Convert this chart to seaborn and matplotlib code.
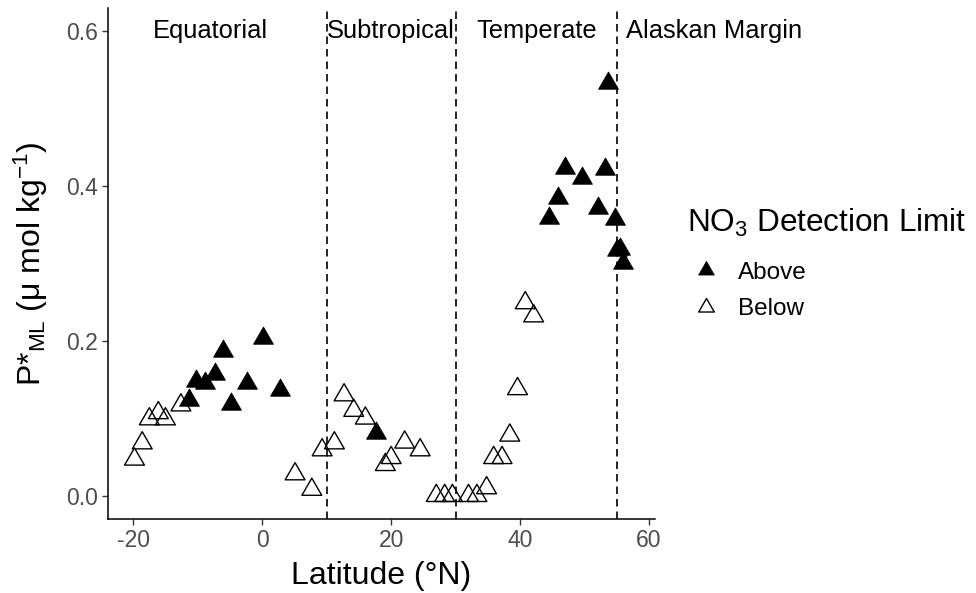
import matplotlib
matplotlib.use("Agg")
import matplotlib.pyplot as plt
from matplotlib.path import Path
from matplotlib.lines import Line2D
import seaborn as sns
import pandas as pd

# ---------------- data ----------------
above_lat = [-11.4, -10.2, -8.8, -7.3, -6.1, -4.9, -2.4, 0.1, 2.7, 17.7,
             44.5, 45.8, 47.0, 49.6, 52.0, 53.1, 53.7, 54.7, 55.1, 55.5, 56.0]
above_p = [0.124, 0.148, 0.146, 0.157, 0.187, 0.118, 0.146, 0.204, 0.137, 0.081,
           0.359, 0.385, 0.423, 0.410, 0.372, 0.422, 0.533, 0.358, 0.317, 0.319, 0.301]

below_lat = [-19.8, -18.6, -17.5, -16.1, -15.0, -12.6, 5.1, 7.7, 9.3, 11.2,
             12.7, 14.2, 16.0, 19.1, 20.0, 22.1, 24.5,
             27.0, 28.3, 29.5, 32.0, 33.3, 34.8, 35.9, 37.2, 38.4, 39.6, 40.8, 42.1]
below_p = [0.047, 0.068, 0.099, 0.107, 0.099, 0.117, 0.028, 0.008, 0.059, 0.068,
           0.130, 0.110, 0.100, 0.040, 0.049, 0.069, 0.059,
           0.0, 0.0, 0.0, 0.0, 0.0, 0.010, 0.049, 0.049, 0.078, 0.138, 0.249, 0.232]

boundaries = [10, 30, 55]
region_names = ["Equatorial", "Subtropical", "Temperate", "Alaskan Margin"]
region_x = [-8, 20, 42.5, 70]
region_y = 0.6

x_ticks = [-20, 0, 20, 40, 60]
y_ticks = [0.0, 0.2, 0.4, 0.6]
legend_labels = ["Above", "Below"]

df = pd.concat([
    pd.DataFrame({"lat": above_lat, "p": above_p, "limit": "Above"}),
    pd.DataFrame({"lat": below_lat, "p": below_p, "limit": "Below"}),
], ignore_index=True)

# ---------------- style ----------------
sns.set_theme(style="ticks")
plt.rcParams["font.family"] = ["Liberation Sans", "DejaVu Sans"]
plt.rcParams["text.color"] = "black"
plt.rcParams["axes.labelcolor"] = "black"
plt.rcParams["mathtext.fontset"] = "custom"
plt.rcParams["mathtext.rm"] = "Liberation Sans"
plt.rcParams["mathtext.it"] = "Liberation Sans:italic"
plt.rcParams["mathtext.bf"] = "Liberation Sans:bold"
plt.rcParams["axes.unicode_minus"] = False

# triangle with centroid at the origin (like R's pch 2 / 17)
tri = Path([(0, 1), (-0.8660254, -0.5), (0.8660254, -0.5), (0, 1)],
           [Path.MOVETO, Path.LINETO, Path.LINETO, Path.CLOSEPOLY])

fig = plt.figure(figsize=(9.76, 5.93), dpi=100)
ax = fig.add_axes([0.1107, 0.1248, 0.5603, 0.8617])

msize = 16.5 ** 2
sns.scatterplot(data=df[df.limit == "Above"], x="lat", y="p", marker=tri,
                s=msize, color="black", edgecolor="black", linewidth=0.6,
                ax=ax, legend=False, zorder=3)
sns.scatterplot(data=df[df.limit == "Below"], x="lat", y="p", marker=tri,
                s=msize, facecolor="none", edgecolor="black", linewidth=1.0,
                ax=ax, legend=False, zorder=3)

for b in boundaries:
    ax.axvline(b, color="black", linewidth=1.2, linestyle=(0, (4.5, 3)), zorder=2)

for name, xx in zip(region_names, region_x):
    ax.text(xx, region_y, name, ha="center", va="center", fontsize=18.4,
            color="black", clip_on=False)

ax.set_xlim(-23.9, 60.9)
ax.set_ylim(-0.03, 0.63)
ax.set_xticks(x_ticks)
ax.set_xticklabels([str(t) for t in x_ticks])
ax.set_yticks(y_ticks)
ax.set_yticklabels([f"{t:.1f}" for t in y_ticks])

for side in ["top", "right"]:
    ax.spines[side].set_visible(False)
for side in ["left", "bottom"]:
    ax.spines[side].set_linewidth(1.1)
    ax.spines[side].set_color("black")
ax.tick_params(axis="both", length=4, width=1.0, color="#333333",
               labelsize=16.5, labelcolor="#4D4D4D", pad=3)

ax.set_xlabel("Latitude (°N)", fontsize=23, color="black", labelpad=7)
ax.set_ylabel(r"P*$_{\mathregular{ML}}$ (μ mol kg$^{\mathregular{-1}}$)",
              fontsize=23, color="black", labelpad=12)

handles = [
    Line2D([], [], linestyle="none", marker=tri, markersize=13,
           markerfacecolor="black", markeredgecolor="black", markeredgewidth=0.6),
    Line2D([], [], linestyle="none", marker=tri, markersize=13,
           markerfacecolor="none", markeredgecolor="black", markeredgewidth=1.0),
]
leg = ax.legend(handles, legend_labels, title=r"NO$_{\mathregular{3}}$ Detection Limit",
                loc="upper left", bbox_to_anchor=(0.704, 0.651),
                bbox_transform=fig.transFigure, frameon=False,
                fontsize=17.5, title_fontsize=22.7, alignment="left",
                handletextpad=0.54, labelspacing=0.58, borderpad=0,
                borderaxespad=0, handlelength=1.56, labelcolor="black")
leg.get_title().set_color("black")
leg._legend_box.sep = 16.5

fig.savefig("out.png", dpi=100)
